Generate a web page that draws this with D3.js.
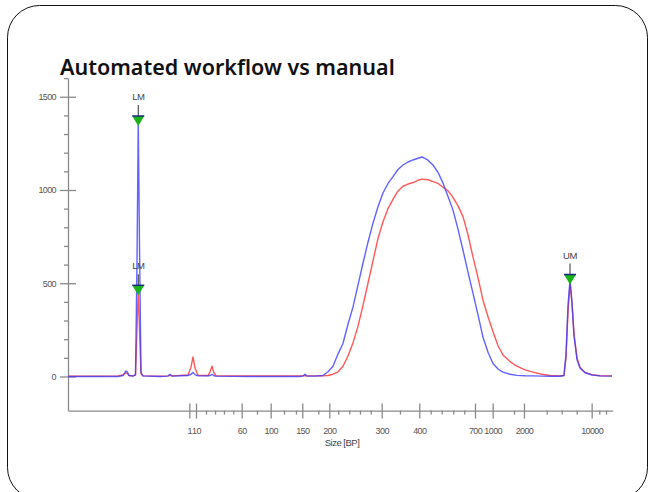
<!DOCTYPE html>
<html>
<head>
<meta charset="utf-8">
<script src="https://cdn.jsdelivr.net/npm/d3@7"></script>
<style>
  body { margin: 0; background: #fff; }
  svg { display: block; }
  .axis text { font-family: "Liberation Sans", Arial, sans-serif; font-size: 9px; letter-spacing: -0.6px; fill: #555; }
  .axis line, .axis path { stroke: #8a8a8a; stroke-width: 1.3; }
  .lbl { font-family: "Liberation Sans", Arial, sans-serif; font-size: 9.5px; letter-spacing: -0.5px; fill: #444; }
</style>
</head>
<body>
<div id="chart"></div>
<script>
// migration time (s) and fluorescence (RFU) of both runs
const timeSec = [20.0, 26.46, 30.1, 31.11, 31.71, 32.02, 32.32, 33.13, 33.63, 33.93, 34.19, 34.44, 34.74, 35.15,
  38.58, 40.19, 40.6, 41.0, 44.23, 44.84, 45.24, 45.65, 46.25, 48.27, 48.68, 49.08, 49.48, 49.89,
  56.75, 66.85, 67.46, 67.86, 68.26, 69.88, 71.49, 72.5, 73.51, 74.52, 75.53, 76.54, 77.55, 78.56,
  79.57, 80.58, 81.59, 82.6, 83.61, 84.62, 85.63, 86.64, 87.65, 88.66, 89.67, 90.68, 91.49, 92.7,
  93.71, 94.72, 95.73, 96.74, 97.75, 98.76, 99.77, 100.78, 101.79, 102.8, 103.81, 104.82, 105.83,
  106.84, 107.84, 109.26, 110.67, 112.28, 113.9, 115.72, 117.33, 119.35, 120.16, 120.57, 120.97,
  121.38, 121.78, 122.18, 122.79, 123.39, 124.4, 125.81, 127.43, 129.86];
const blueRfu = [0, 0, 0, 5, 30, 22, 5, 2, 10, 600, 1370, 700, 20, 3,
  0, 2, 12, 2, 5, 12, 22, 10, 3, 3, 5, 12, 4, 2,
  0, 0, 3, 12, 2, 2, 5, 25, 55, 120, 177, 280, 372, 490,
  607, 720, 822, 910, 984, 1035, 1072, 1110, 1134, 1150, 1161, 1170, 1177, 1160,
  1134, 1095, 1037, 965, 892, 790, 677, 560, 446, 330, 210, 130, 70,
  40, 23, 12, 6, 4, 3, 2, 1, 1, 5, 120, 380,
  520, 400, 220, 90, 45, 20, 8, 3, 2];
const redRfu = [2, 2, 3, 8, 20, 15, 5, 3, 8, 250, 462, 250, 15, 3,
  2, 3, 6, 3, 8, 50, 105, 45, 6, 5, 25, 55, 20, 4,
  3, 3, 3, 5, 3, 3, 3, 5, 12, 25, 55, 110, 180, 270,
  380, 500, 620, 740, 830, 900, 950, 995, 1020, 1032, 1040, 1052, 1058, 1055,
  1045, 1035, 1015, 995, 960, 915, 857, 760, 640, 530, 409, 320, 240,
  165, 115, 80, 55, 35, 23, 12, 5, 3, 5, 100, 340,
  500, 390, 230, 100, 50, 22, 10, 4, 3];

// size ladder: base pairs and the migration time each one runs at
const ladderBp = [1, 10, 60, 100, 150, 200, 300, 400, 700, 1000, 2000, 10000];
const ladderSec = [44.5, 45.85, 55.08, 60.93, 67.31, 72.77, 83.35, 90.94, 102.19, 105.76, 112.08, 125.75];
const minorSec = [47.87, 49.69, 51.5, 53.38, 58.16, 63.62, 66.04, 70.55, 74.58, 76.81, 78.97, 81.13,
  87.04, 93.24, 95.46, 97.81, 100.03, 110.07, 116.67, 119.7, 122.73, 127.29, 128.65];

const yMajor = [0, 500, 1000, 1500];
const yMinor = [100, 200, 300, 400, 600, 700, 800, 900, 1100, 1200, 1300, 1400, 1600];

const markerLabel = ["LM", "LM", "UM"];
const markerSec = [34.19, 34.19, 121.38];
const markerRfu = [1370, 462, 520];

const W = 650, H = 492;

const svg = d3.select("#chart").append("svg")
  .attr("width", W)
  .attr("height", H);

svg.append("rect")
  .attr("width", W).attr("height", H)
  .attr("fill", "#fff");

// slide frame
svg.append("rect")
  .attr("x", 7.5).attr("y", 5.5)
  .attr("width", 640).attr("height", 494)
  .attr("rx", 32)
  .attr("fill", "none")
  .attr("stroke", "#111")
  .attr("stroke-width", 1);

const title = svg.append("text")
  .attr("x", 60).attr("y", 75)
  .attr("font-family", "'Noto Sans', 'Open Sans', sans-serif")
  .attr("font-weight", 600)
  .attr("font-size", 21)
  .attr("fill", "#111")
  .text("Automated workflow vs manual");
const tl = title.node().getComputedTextLength();
title.attr("font-size", 21 * 335 / tl);

const x = d3.scaleLinear().domain([20, 130]).range([68, 612.7]);
const y = d3.scaleLinear().domain([-183, 1600]).range([410.6, 78.1]);

// x axis (size ladder)
const gx = svg.append("g")
  .attr("class", "axis")
  .attr("transform", `translate(0,${y(-183)})`)
  .call(d3.axisBottom(x)
    .tickValues(ladderSec)
    .tickFormat((d, i) => ladderBp[i])
    .tickSize(8)
    .tickSizeOuter(0)
    .tickPadding(9));
gx.selectAll(".tick line").attr("y1", -7);

svg.append("g")
  .attr("class", "axis")
  .attr("transform", `translate(0,${y(-183)})`)
  .call(d3.axisBottom(x).tickValues(minorSec).tickSize(4).tickFormat(""))
  .call((g) => g.select(".domain").remove());

svg.append("text")
  .attr("class", "lbl")
  .attr("x", 342).attr("y", 446)
  .attr("text-anchor", "middle")
  .text("Size [BP]");

// y axis
const gy = svg.append("g")
  .attr("class", "axis")
  .attr("transform", `translate(${x(20)},0)`)
  .call(d3.axisLeft(y)
    .tickValues(yMajor)
    .tickFormat(d3.format("d"))
    .tickSize(8)
    .tickSizeOuter(0)
    .tickPadding(4));
gy.selectAll(".tick line").attr("x1", 8);

svg.append("g")
  .attr("class", "axis")
  .attr("transform", `translate(${x(20)},0)`)
  .call(d3.axisLeft(y).tickValues(yMinor).tickSize(4).tickFormat(""))
  .call((g) => g.select(".domain").remove());

// traces
const lineGen = (vals) => d3.line()
  .x((d, i) => x(timeSec[i]))
  .y((d) => y(d))(vals);

svg.append("path")
  .attr("d", lineGen(redRfu))
  .attr("fill", "none")
  .attr("stroke", "#ff3b3b")
  .attr("stroke-opacity", 0.85)
  .attr("stroke-width", 1.4)
  .attr("stroke-linejoin", "round");

svg.append("path")
  .attr("d", lineGen(blueRfu))
  .attr("fill", "none")
  .attr("stroke", "#3b3bff")
  .attr("stroke-opacity", 0.8)
  .attr("stroke-width", 1.4)
  .attr("stroke-linejoin", "round");

// ladder markers
const mk = svg.append("g")
  .selectAll("g")
  .data(markerLabel)
  .join("g")
  .attr("transform", (d, i) => `translate(${x(markerSec[i])},${y(markerRfu[i])})`);

mk.append("line")
  .attr("x1", 0).attr("x2", 0)
  .attr("y1", -16).attr("y2", -5)
  .attr("stroke", "#333")
  .attr("stroke-width", 1);

mk.append("path")
  .attr("d", "M-6,-5L6,-5L0,5Z")
  .attr("fill", "#19b319");

mk.append("line")
  .attr("x1", -6).attr("x2", 6)
  .attr("y1", -5).attr("y2", -5)
  .attr("stroke", "#1a2a80")
  .attr("stroke-width", 1.5);

mk.append("text")
  .attr("class", "lbl")
  .attr("y", -21)
  .attr("text-anchor", "middle")
  .text((d) => d);
</script>
</body>
</html>
